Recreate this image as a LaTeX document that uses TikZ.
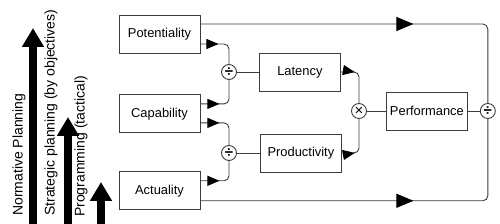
\documentclass[tikz,border=0pt]{standalone}
\usepackage{fontspec}
\setmainfont{Liberation Sans}
\usepackage{tikz}
\usetikzlibrary{arrows.meta, positioning, calc, decorations.markings}
\usepackage{xcolor}
\definecolor{mygray}{RGB}{60, 60, 60}

\begin{document}
\begin{tikzpicture}[x=1pt, y=1pt,
        blok/.style={draw=mygray, line width=0.9pt, minimum width=81pt, minimum height=38pt, inner sep=1pt, font=\fontsize{12.9}{15}\selectfont},
        op/.style={draw=mygray, line width=0.9pt, circle, minimum size=15pt, inner sep=0pt, font=\fontsize{15}{15}\selectfont\bfseries},
        link/.style={draw=mygray, line width=0.9pt, rounded corners=5pt},
        tipat/.style={postaction={decorate, decoration={markings, mark=at position #1 with {\arrow[black]{Triangle[length=12pt, width=10pt]}}}}},
        bigtipat/.style={postaction={decorate, decoration={markings, mark=at position #1 with {\arrow[black]{Triangle[length=17pt, width=14pt]}}}}},
        plan/.style={line width=7.5pt, -{Triangle[length=19pt, width=21pt]}},
        planlabel/.style={rotate=90, anchor=west, inner sep=0pt, font=\fontsize{14}{15}\selectfont}]
    \useasboundingbox (0,0) rectangle (500,224);

    % --- Strzałki planowania ---
    \coordinate (normbase) at (33,0);
    \coordinate (normtip) at (33,196);
    \draw[plan] (normbase) -- (normtip);
    \node[planlabel] (normtext) at (19,8) {Normative Planning};

    \coordinate (stratbase) at (68,0);
    \coordinate (strattip) at (68,107);
    \draw[plan] (stratbase) -- (strattip);
    \node[planlabel] (strattext) at (51,8) {Strategic planning (by objectives)};

    \coordinate (progbase) at (101,0);
    \coordinate (progtip) at (101,42);
    \draw[plan] (progbase) -- (progtip);
    \node[planlabel] (progtext) at (81,7) {Programming (tactical)};

    % --- Input boxes ---
    \node[blok] (pot) at (159.5,190) {Potentiality};
    \node[blok, below=41pt of pot] (cap) {Capability};
    \node[blok, below=38pt of cap] (act) {Actuality};

    % --- Operatory ---
    \node[op] (div1) at (229,152) {÷};
    \node[op] (div2) at (229,71) {÷};
    \node[blok, right=22pt of div1] (lat) {Latency};
    \node[blok, right=23pt of div2] (prod) {Productivity};
    \node[op, font=\fontsize{15}{15}\selectfont] (mul) at (359,113) {×};
    \node[blok, right=19pt of mul] (perf) {Performance};
    \node[op, right=12pt of perf] (div3) {÷};

    % --- Connectors ---
    \draw[link, tipat=18pt] ($(pot.east)+(0,-10)$) -| (div1.north);
    \draw[link, tipat=19pt] ($(cap.east)+(0,10)$) -| (div1.south);
    \draw[link, tipat=19pt] ($(cap.east)+(0,-9)$) -| (div2.north);
    \draw[link, tipat=19pt] ($(act.east)+(0,10)$) -| (div2.south);
    \draw[link] (div1) -- (lat);
    \draw[link] (div2) -- (prod);
    \draw[link, tipat=14pt] (lat.east) -| (mul.north);
    \draw[link, tipat=13pt] (prod.east) -| (mul.south);
    \draw[link] (mul) -- (perf);
    \draw[link] (perf) -- (div3);

    % obejście górą i dołem
    \draw[link, bigtipat=213pt] ($(pot.east)+(0,10)$) -| (div3.north);
    \draw[link, bigtipat=213pt] ($(act.east)+(0,-10)$) -| (div3.south);

\end{tikzpicture}
\end{document}
